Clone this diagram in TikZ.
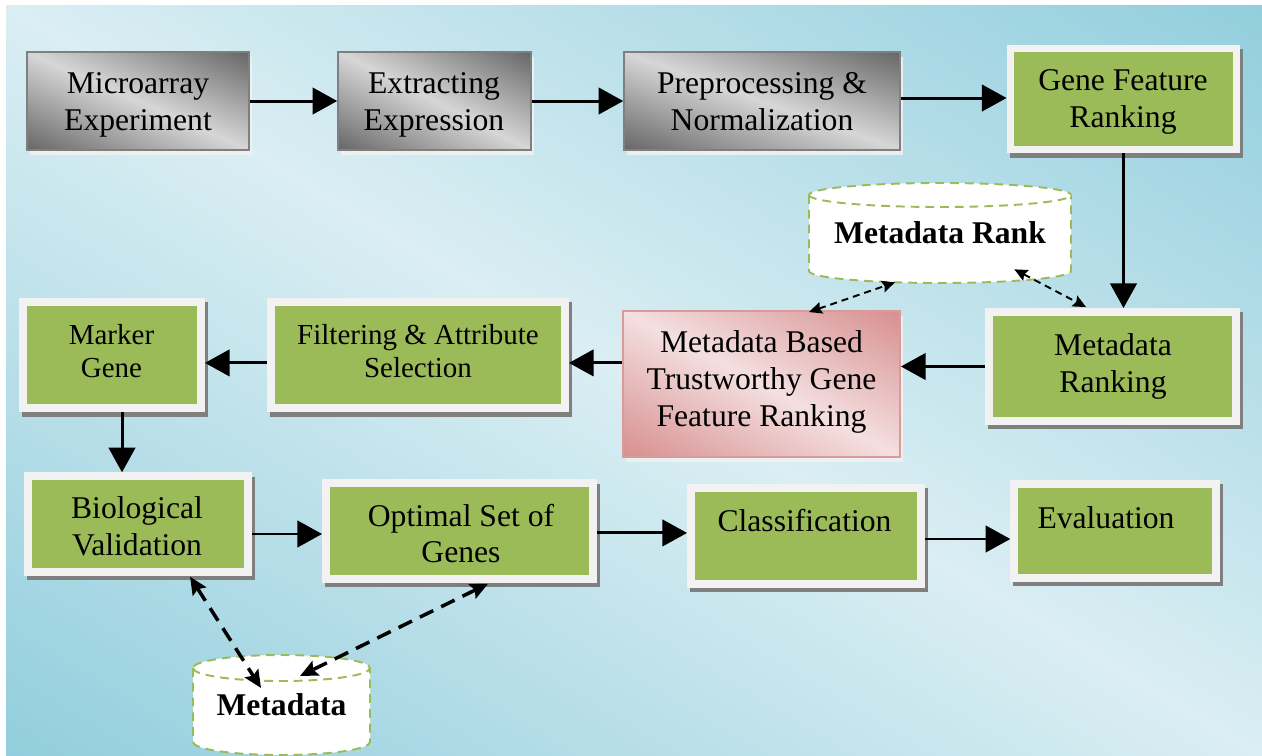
\documentclass[tikz,border=0pt]{standalone}
\usepackage{fontspec}
\setmainfont{Liberation Serif}
\usetikzlibrary{arrows.meta,calc}

\newdimen\pxu \pxu=0.02cm
\newcommand\mainfs{\fontsize{18}{21}\selectfont}
\newcommand\smallfs{\fontsize{16.5}{19}\selectfont}

\definecolor{grayB}{HTML}{7F7F7F}
\definecolor{pinkB}{HTML}{DA9A9A}
\definecolor{leaf}{HTML}{9BBB59}
\definecolor{frameW}{HTML}{F2F2F2}
\definecolor{shadowG}{HTML}{7F7F7F}

% diagonal shadings: light along the top-left/bottom-right diagonal,
% darkening towards the top-right and bottom-left corners
\pgfdeclarefunctionalshading{bgdiag}{\pgfpointorigin}{\pgfpoint{100bp}{100bp}}{}{
  add 100 sub abs 50 div
  dup -0.282 mul 0.855 add exch
  dup -0.125 mul 0.933 add exch
  -0.086 mul 0.953 add
}
\pgfdeclarefunctionalshading{graydiag}{\pgfpointorigin}{\pgfpoint{100bp}{100bp}}{}{
  add 100 sub abs 50 div
  dup -0.44 mul 0.84 add exch
  dup -0.44 mul 0.84 add exch
  -0.44 mul 0.84 add
}
\pgfdeclarefunctionalshading{pinkdiag}{\pgfpointorigin}{\pgfpoint{100bp}{100bp}}{}{
  add 100 sub abs 50 div
  dup -0.114 mul 0.957 add exch
  dup -0.314 mul 0.875 add exch
  -0.317 mul 0.878 add
}

% cylinder outline: #1 centre x, #2 top y, #3 x radius, #4 height, #5 y radius
\newcommand\cylshape[5]{%
  \filldraw[cylstyle] (#1-#3,#2-#5) -- (#1-#3,#2-#4+#5)
    arc[start angle=180,end angle=360,x radius=#3,y radius=#5]
    -- (#1+#3,#2-#5)
    arc[start angle=0,end angle=180,x radius=#3,y radius=#5] -- cycle;
  \draw[cylstyle] (#1-#3,#2-#5)
    arc[start angle=180,end angle=360,x radius=#3,y radius=#5];
}

\begin{document}
\begin{tikzpicture}[x=0.02cm,y=0.02cm,
  greenbox/.style={fill=leaf, draw=frameW, line width=4.5pt, inner sep=0pt,
    preaction={fill=shadowG, draw=shadowG, line width=4.5pt,
      transform canvas={xshift=1.7pt, yshift=-2.5pt}}},
  graybox/.style={shade, shading=graydiag, draw=grayB,
    line width=0.85pt, inner sep=0pt,
    preaction={fill=frameW, opacity=.85,
      transform canvas={xshift=1.7pt, yshift=-2.8pt}}},
  pinkbox/.style={shade, shading=pinkdiag, draw=pinkB,
    line width=1.1pt, inner sep=0pt,
    preaction={fill=frameW, opacity=.85,
      transform canvas={xshift=1.7pt, yshift=-2.8pt}}},
  txt/.style={inner sep=0pt, align=center, font=\mainfs},
  stxt/.style={inner sep=0pt, align=center, font=\smallfs},
  cylstyle/.style={fill=white, draw=leaf, line width=1.1pt,
    dash pattern=on 5pt off 3.4pt},
  cyltext/.style={inner sep=0pt, font=\bfseries\mainfs},
  arr/.style={line width=1.7pt, -{Triangle[length=14pt,width=15pt]}},
  dsmall/.style={line width=1.1pt, dash pattern=on 4pt off 2.8pt,
    {Stealth[length=7.4pt,width=6.8pt,inset=1.1pt]}-{Stealth[length=7.4pt,width=6.8pt,inset=1.1pt]}},
  dbig/.style={line width=2pt, dash pattern=on 8.5pt off 5pt,
    {Stealth[length=10pt,width=9pt,inset=1.7pt]}-{Stealth[length=10pt,width=9pt,inset=1.7pt]}}
]
\useasboundingbox (0,0) rectangle (1262,-755);
\clip (0,0) rectangle (1262,-755);

% background panel
\shade[shading=bgdiag] (6,-5) rectangle (1262,-755);

% top row
\node[graybox, minimum width=222\pxu, minimum height=98\pxu] (micro) at (138,-101) {};
\node[graybox, minimum width=193\pxu, minimum height=98\pxu] (extract) at (434.5,-101) {};
\node[graybox, minimum width=276\pxu, minimum height=98\pxu] (preproc) at (762,-101) {};
\node[greenbox, minimum width=226\pxu, minimum height=101\pxu] (gene) at (1123.5,-99) {};
\node[txt] (microT) at (138,-105) {Microarray\\Experiment};
\node[txt] (extractT) at (434,-105) {Extracting\\Expression};
\node[txt] (preprocT) at (762,-102) {Preprocessing \&\\Normalization};
\node[txt] (geneT) at (1123,-101.5) {Gene Feature\\Ranking};

% middle row
\node[greenbox, minimum width=247\pxu, minimum height=109\pxu] (mranking) at (1112.5,-366.5) {};
\node[pinkbox, minimum width=277\pxu, minimum height=146\pxu] (mbased) at (761.5,-384) {};
\node[greenbox, minimum width=294\pxu, minimum height=106.5\pxu] (filter) at (418,-355) {};
\node[greenbox, minimum width=178\pxu, minimum height=106.5\pxu] (marker) at (112,-355) {};
\node[txt] (mrankingT) at (1113,-366) {Metadata\\Ranking};
\node[txt] (mbasedT) at (761.5,-382) {Metadata Based\\Trustworthy Gene\\Feature Ranking};
\node[stxt] (filterT) at (418,-351) {Filtering \& Attribute\\Selection};
\node[stxt] (markerT) at (111.5,-351) {Marker\\Gene};

% bottom row
\node[greenbox, minimum width=220\pxu, minimum height=95.5\pxu] (bio) at (138,-524) {};
\node[greenbox, minimum width=267\pxu, minimum height=95.5\pxu] (opt) at (459.5,-531) {};
\node[greenbox, minimum width=230\pxu, minimum height=96\pxu] (cls) at (806,-536) {};
\node[greenbox, minimum width=201.5\pxu, minimum height=94\pxu] (eval) at (1115,-531) {};
\node[txt] (bioT) at (137,-526.5) {Biological\\Validation};
\node[txt] (optT) at (461,-533.5) {Optimal Set of\\Genes};
\node[txt] (clsT) at (804.5,-521) {Classification};
\node[txt] (evalT) at (1106,-518) {Evaluation};

% metadata stores
\cylshape{940}{-183}{131}{100}{12}
\node[cyltext, minimum width=262\pxu, minimum height=100\pxu] (mrank) at (940,-233) {Metadata Rank};
\cylshape{281.5}{-655}{88.5}{100}{13}
\node[cyltext, minimum width=177\pxu, minimum height=100\pxu] (meta) at (281.5,-705) {Metadata};

% process flow
\draw[arr] (micro) -- (extract);
\draw[arr] (extract) -- (preproc);
\draw[arr] ([yshift=1.7pt]preproc.east) -- ([yshift=1.7pt]preproc.east -| gene.west);
\draw[arr] (gene.south) -- (gene.south |- mranking.north);
\draw[arr] (mranking.west) -- (mranking.west -| mbased.east);
\draw[arr] ([yshift=-4.5pt]filter.east -| mbased.west) -- ([yshift=-4.5pt]filter.east);
\draw[arr] ([yshift=-4.5pt]filter.west) -- ([yshift=-4.5pt]marker.east);
\draw[arr] ([xshift=5.7pt]marker.south) -- ([xshift=5.7pt]marker.south |- bio.north);
\draw[arr] ([yshift=-1.7pt]bio.east |- opt.west) -- ([yshift=-1.7pt]opt.west);
\draw[arr] ([yshift=-1.1pt]opt.east) -- ([yshift=-1.1pt]opt.east -| cls.west);
\draw[arr] ([yshift=-1.7pt]cls.east) -- ([yshift=-1.7pt]cls.east -| eval.west);

% links to the metadata stores
\draw[dsmall] ($(mbased.north west)+(187,-2)$) -- ($(mrank.south)+(-45,1)$);
\draw[dsmall] ($(mrank.south east)+(-57,14)$) -- ($(mranking.north west)+(101,1)$);
\draw[dbig] ($(bio.south west)+(166,-1)$) -- ($(meta.center)+(-20.5,17)$);
\draw[dbig] ($(opt.south west)+(166,-1)$) -- ($(meta.center)+(18.5,29)$);
\end{tikzpicture}
\end{document}
